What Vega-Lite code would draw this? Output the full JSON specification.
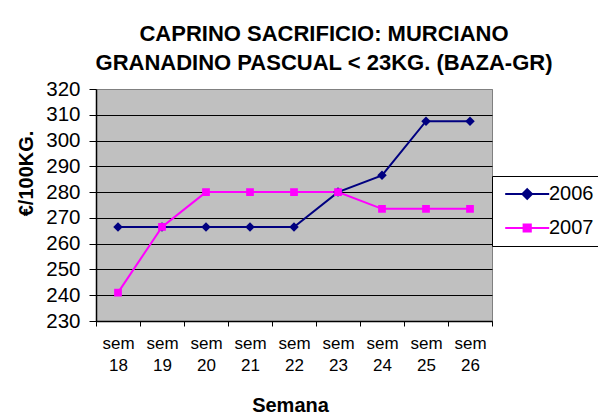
{
  "$schema": "https://vega.github.io/schema/vega-lite/v6.json",
  "autosize": "none",
  "width": 396,
  "height": 232,
  "padding": {"left": 96, "top": 89, "right": 106, "bottom": 96},
  "background": "white",
  "config": {
    "font": "Liberation Sans",
    "view": {"fill": "#C0C0C0", "stroke": "#808080", "strokeWidth": 1}
  },
  "title": {
    "text": ["CAPRINO SACRIFICIO: MURCIANO", "GRANADINO PASCUAL < 23KG. (BAZA-GR)"],
    "font": "Liberation Sans",
    "fontSize": 22,
    "fontWeight": "bold",
    "color": "black",
    "anchor": "middle",
    "dx": 30,
    "lineHeight": 29,
    "offset": 4
  },
  "data": {
    "values": [
      {"week": "sem 18", "year": "2006", "price": 266.5},
      {"week": "sem 19", "year": "2006", "price": 266.5},
      {"week": "sem 20", "year": "2006", "price": 266.5},
      {"week": "sem 21", "year": "2006", "price": 266.5},
      {"week": "sem 22", "year": "2006", "price": 266.5},
      {"week": "sem 23", "year": "2006", "price": 280},
      {"week": "sem 24", "year": "2006", "price": 286.5},
      {"week": "sem 25", "year": "2006", "price": 307.5},
      {"week": "sem 26", "year": "2006", "price": 307.5},
      {"week": "sem 18", "year": "2007", "price": 241},
      {"week": "sem 19", "year": "2007", "price": 266.5},
      {"week": "sem 20", "year": "2007", "price": 280},
      {"week": "sem 21", "year": "2007", "price": 280},
      {"week": "sem 22", "year": "2007", "price": 280},
      {"week": "sem 23", "year": "2007", "price": 280},
      {"week": "sem 24", "year": "2007", "price": 273.5},
      {"week": "sem 25", "year": "2007", "price": 273.5},
      {"week": "sem 26", "year": "2007", "price": 273.5}
    ]
  },
  "encoding": {
    "x": {
      "field": "week",
      "type": "nominal",
      "bandPosition": 0.5,
      "scale": {"type": "band", "paddingInner": 0, "paddingOuter": 0},
      "axis": {
        "title": "Semana",
        "titleFont": "Liberation Sans",
        "titleFontSize": 20,
        "titleFontWeight": "bold",
        "titleColor": "black",
        "titleX": 194,
        "titleY": 84,
        "titleBaseline": "middle",
        "titleAlign": "center",
        "labelAngle": 0,
        "labelFont": "Liberation Sans",
        "labelFontSize": 17,
        "labelColor": "black",
        "labelExpr": "split(datum.label, ' ')",
        "labelLineHeight": 22,
        "labelPadding": 9,
        "tickBand": "extent",
        "tickSize": 5,
        "tickColor": "black",
        "domainColor": "black",
        "domainWidth": 1.5,
        "grid": false
      }
    },
    "y": {
      "field": "price",
      "type": "quantitative",
      "scale": {"domain": [230, 320], "nice": false, "zero": false},
      "axis": {
        "title": "€/100KG.",
        "titleFont": "Liberation Sans",
        "titleFontSize": 20,
        "titleFontWeight": "bold",
        "titleColor": "black",
        "titleX": -70,
        "titleY": 84,
        "titleBaseline": "middle",
        "titleAlign": "center",
        "titleAngle": 270,
        "values": [230, 240, 250, 260, 270, 280, 290, 300, 310, 320],
        "labelFont": "Liberation Sans",
        "labelFontSize": 20.5,
        "labelColor": "black",
        "labelPadding": 9,
        "tickSize": 7,
        "tickColor": "black",
        "domainColor": "black",
        "domainWidth": 1.5,
        "grid": true,
        "gridColor": {"condition": {"test": "datum.value == 320", "value": "#808080"}, "value": "black"},
        "gridWidth": 1,
        "gridOpacity": 1
      }
    },
    "color": {
      "field": "year",
      "type": "nominal",
      "scale": {"domain": ["2006", "2007"], "range": ["#000080", "#FF00FF"]},
      "legend": {
        "title": null,
        "orient": "none",
        "legendX": 396,
        "legendY": 87,
        "fillColor": "white",
        "strokeColor": "black",
        "padding": 8,
        "labelFont": "Liberation Sans",
        "labelFontSize": 20,
        "labelColor": "black",
        "labelOffset": 29,
        "rowPadding": 14,
        "symbolSize": 64,
        "symbolStrokeWidth": 2,
        "encode": {
          "symbols": {
            "update": {
              "shape": {"signal": "datum.value == '2006' ? 'M-1.2,0L9.8,0M4.3,-1.2L5.5,0L4.3,1.2L3.1,0Z' : 'M-1.2,0L9.8,0M3.4,-0.9L5.2,-0.9L5.2,0.9L3.4,0.9Z'"},
              "fill": {"signal": "datum.value == '2006' ? '#000080' : '#FF00FF'"},
              "stroke": {"signal": "datum.value == '2006' ? '#000080' : '#FF00FF'"},
              "fillOpacity": {"value": 1},
              "strokeWidth": {"value": 2}
            }
          }
        }
      }
    }
  },
  "layer": [
    {
      "mark": {"type": "line", "strokeWidth": 2},
      "encoding": {}
    },
    {
      "transform": [{"filter": "datum.year == '2006'"}],
      "mark": {"type": "point", "shape": "diamond", "filled": true, "opacity": 1, "size": 90}
    },
    {
      "transform": [{"filter": "datum.year == '2007'"}],
      "mark": {"type": "point", "shape": "square", "filled": true, "opacity": 1, "size": 60}
    }
  ]
}
